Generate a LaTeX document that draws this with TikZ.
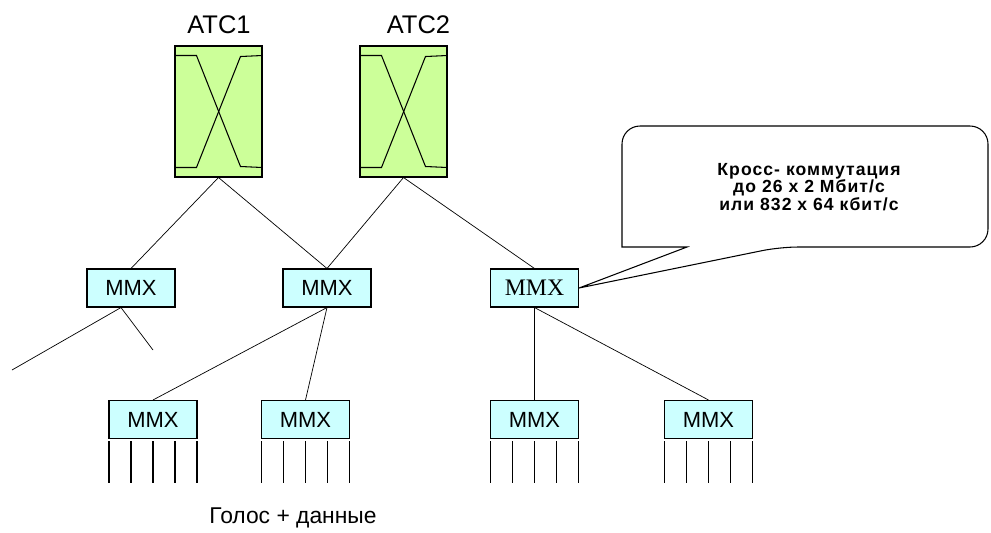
\documentclass[tikz,border=0pt]{standalone}
\usepackage{fontspec}
\setmainfont{Liberation Sans}
\newfontfamily\serifmmx{Liberation Serif}
\newfontfamily\notefont[LetterSpace=6]{Liberation Sans}
\definecolor{AtcColor}{RGB}{204,255,153}
\definecolor{MmxColor}{RGB}{204,255,255}
\usetikzlibrary{positioning, calc}
\tikzstyle{atc} = [draw, fill=AtcColor, minimum width=1.74cm, minimum height=2.62cm, inner sep=0pt]
\tikzstyle{mmx} = [draw, fill=MmxColor, minimum width=1.76cm, minimum height=0.76cm, inner sep=0pt, font=\fontsize{12.5}{14}\selectfont]
\tikzstyle{link} = [thin]

\begin{document}
\begin{tikzpicture}[x=0.02cm, y=-0.02cm, line width=0.6pt]
                \useasboundingbox (0,0) rectangle (991,532);

                % exchanges
                \node[atc] (atc1) at (218.5,111.5) {};
                \node[atc] (atc2) at (403.5,111.5) {};
                \node[font=\fontsize{14.5}{16}\selectfont] (atc1lbl) at (219,25) {АТС1};
                \node[font=\fontsize{14.5}{16}\selectfont] (atc2lbl) at (418.5,25) {АТС2};
                \foreach \a in {atc1, atc2} {
                    \draw ($(\a.north west)+(0,10)$) -- ++(22,0) -- ++(44,111) -- ($(\a.south east)+(0,-10)$);
                    \draw ($(\a.south west)+(0,-10)$) -- ++(22,0) -- ++(44,-111) -- ($(\a.north east)+(0,10)$);
                }

                % multiplexers
                \node[mmx] (m1) at (131,288) {MMX\hspace{6pt}};
                \node[mmx] (m2) at (327,288) {MMX\hspace{6pt}};
                \node[mmx, font=\serifmmx\fontsize{13.5}{15}\selectfont] (m3) at (534.5,288) {MMX\hspace{6pt}};
                \node[mmx] (m4) at (153,419.5) {MMX\hspace{6pt}};
                \node[mmx] (m5) at (305.5,419.5) {MMX\hspace{6pt}};
                \node[mmx] (m6) at (534.5,419.5) {MMX\hspace{6pt}};
                \node[mmx] (m7) at (708.5,419.5) {MMX\hspace{6pt}};

                \draw[link] (atc1.south) -- (m1.north);
                \draw[link] (atc1.south) -- (m2.north);
                \draw[link] (atc2.south) -- (m2.north);
                \draw[link] (atc2.south) -- (m3.north);

                \coordinate (free1) at (12,370);
                \coordinate (free2) at (153,350);
                \draw[link] ($(m1.south)+(-10,0)$) -- (free1);
                \draw[link] ($(m1.south)+(-10,0)$) -- (free2);

                \draw[link] (m2.south) -- (m4.north);
                \draw[link] (m2.south) -- (m5.north);
                \draw[link] (m3.south) -- (m6.north);
                \draw[link] (m3.south) -- (m7.north);

                % subscriber lines
                \foreach \m in {m4, m5, m6, m7} {
                    \foreach \dx in {-44, -22, 0, 22, 44} {
                        \draw ($(\m.south)+(\dx,2)$) -- ++(0,42);
                    }
                }

                \node[font=\fontsize{13}{15}\selectfont] (voice) at (293,518) {Голос + данные};

                % callout
                \node[align=center, font=\notefont\bfseries\fontsize{10}{9.8}\selectfont] (note) at (809,187)
                     {Кросс- коммутация\\до 26 x 2 Мбит/с\\или 832 x 64 кбит/с};
                \draw (m3.east) -- (687,247) -- (622,247) [rounded corners=0.36cm] -- (622,126)
                      -- (988,126) -- (988,247) -- (780,247) [sharp corners] -- (m3.east);
            \end{tikzpicture}
\end{document}
